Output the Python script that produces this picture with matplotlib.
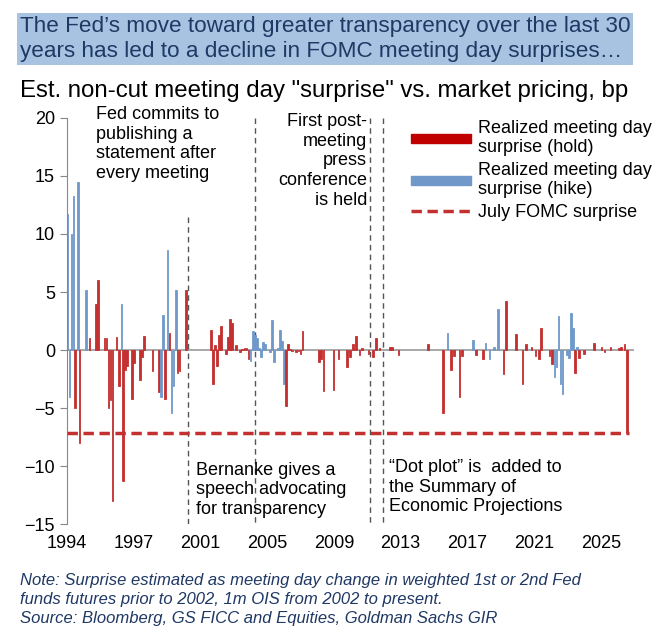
import numpy as np
import matplotlib.pyplot as plt
from matplotlib.patches import Patch
from matplotlib.lines import Line2D

plt.rcParams['font.family'] = ['Liberation Sans', 'DejaVu Sans']

# meeting position (years since start of 1994), surprise in bp, h = hike meeting
t_pos = [0.04, 0.16, 0.28, 0.4, 0.5, 0.66, 0.76, 1.16, 1.36, 1.74, 1.88, 2.26, 2.38, 2.5, 2.62, 2.74,
         2.98, 3.12, 3.28, 3.38, 3.5, 3.62, 3.9, 4.02, 4.38, 4.5, 4.62, 5.14, 5.52, 5.66, 5.78, 5.88,
         6.04, 6.16, 6.28, 6.4, 6.54, 6.64, 6.76, 7.14, 8.62, 8.74, 8.88, 9.0, 9.12, 9.24, 9.52, 9.64,
         9.76, 9.88, 10.12, 10.38, 10.5, 10.64, 10.76, 10.88, 11.0, 11.14, 11.26, 11.38, 11.5, 11.64,
         11.76, 11.88, 12.16, 12.28, 12.4, 12.64, 12.76, 12.88, 13.0, 13.12, 13.26, 13.38, 13.5, 13.74,
         13.88, 14.0, 14.12, 15.12, 15.24, 15.38,
         15.98, 16.28, 16.78, 16.98, 17.14, 17.34, 17.54, 17.68, 18.08, 18.34, 18.54, 18.74, 19.38,
         19.48, 19.88, 21.64, 22.54, 22.82, 23.02, 23.22, 23.54, 23.68, 24.32, 24.52, 24.92, 25.08,
         25.32, 25.58, 25.82, 26.16, 26.3, 26.92, 27.3, 27.52, 27.84, 28.08, 28.3, 28.42, 28.92, 29.06,
         29.22, 29.34, 29.46, 29.58, 29.7, 29.96, 30.1, 30.22, 30.34, 30.46, 30.58, 30.7, 30.98, 31.58,
         32.04, 32.22, 32.58, 33.1, 33.22, 33.42, 33.56]
surprise = [11.7, -4, 10, 13.3, -5, 14.5, -8, 5.2, 1, 4, 6, 1, 1, -5, -4.3, -13,
            1.1, -3.1, 4, -11.3, -1.7, -1.4, -4.2, -1.1, -2.6, -0.6, 1.2, -1.8, -3.6, -4, 3, -4.2,
            8.6, 1.5, -5.4, -3.1, 5.2, -2, -1.8, 5.2, 1.7, -2.9, 0.4, -1.4, 1.3, 2.1, -0.3, 1.1,
            2.7, 2.3, 0.4, -0.2, 0.1, 0.2, 0.2, -0.8, -0.9, 1.6, 1.3, 1, 0.2, -0.6,
            0.7, 0.5, -0.2, 2.6, -1, 0.2, 1.7, 0.8, -2.9, -4.8, 0.5, 0.1, -0.1, -0.2,
            -0.1, -0.3, 1.6, -1, -0.8, -3.5,
            -3.4, -0.8, -1.5, -0.6, 0.5, 1.2, -0.4, 0.2, -0.3, -0.6, 1, 0.2, 0.3,
            0.3, -0.4, 0.5, -5.4, 1.5, -1.7, -0.5, -4, -0.5, 0.9, -0.4, -0.8, 0.6,
            -0.8, 0.3, 3.5, -2.1, 4.2, 1.4, -2.9, 0.5, 0.3, -0.5, -0.8, 1.9, -0.5, -1.2,
            -2.3, -1.5, 2.9, -2.9, -3.8, -0.4, -0.7, 3.2, 1.9, -2, 0.3, -0.7, -0.3, 0.6,
            0.3, -0.2, 0.3, 0.2, 0.3, 0.5, -7.1]
hike = ['b', 'b', 'b', 'b', 'r', 'b', 'r', 'b', 'r', 'r', 'r', 'r', 'r', 'r', 'r', 'r',
        'r', 'r', 'b', 'r', 'r', 'r', 'r', 'r', 'r', 'r', 'r', 'r', 'r', 'b', 'b', 'r',
        'b', 'r', 'b', 'b', 'b', 'r', 'r', 'r', 'r', 'r', 'r', 'r', 'r', 'r', 'r', 'r',
        'r', 'r', 'r', 'r', 'r', 'r', 'r', 'r', 'b', 'b', 'b', 'b', 'b', 'b',
        'b', 'b', 'b', 'b', 'b', 'b', 'b', 'b', 'b', 'r', 'r', 'r', 'r', 'r',
        'r', 'r', 'r', 'r', 'r', 'r',
        'r', 'r', 'r', 'r', 'r', 'r', 'r', 'r', 'r', 'r', 'r', 'r', 'r',
        'r', 'r', 'r', 'r', 'b', 'r', 'r', 'r', 'r', 'b', 'r', 'r', 'b',
        'b', 'b', 'b', 'r', 'r', 'r', 'r', 'r', 'r', 'r', 'r', 'r', 'r', 'r',
        'b', 'b', 'b', 'b', 'b', 'b', 'b', 'b', 'b', 'r', 'b', 'r', 'r', 'r',
        'r', 'r', 'r', 'r', 'r', 'r', 'r']
july_surprise = -7.1
event_lines = [7.28, 11.28, 18.18, 18.92]
year_labels = ['1994', '1997', '2001', '2005', '2009', '2013', '2017', '2021', '2025']

RED = '#C4302F'
BLUE = '#7099CA'
NAVY = '#1F3864'

fig = plt.figure(figsize=(6.62, 6.37), dpi=100)
ax = fig.add_axes([0.101, 0.177, 0.857, 0.638])

cols = [BLUE if h == 'b' else RED for h in hike]
ax.bar(t_pos, surprise, width=0.1, color=cols, edgecolor=cols, linewidth=0.6, zorder=2)
ax.axhline(0, color='#999999', lw=1.2, zorder=1)
ax.plot([0, t_pos[-1] + 0.1], [july_surprise] * 2, color=RED, lw=2.5, ls=(0, (3, 1.6)), zorder=3)

ax.plot([event_lines[0]] * 2, [11.5, -15], color='#555555', lw=1, ls=(0, (4, 3)), zorder=1)
for x in event_lines[1:]:
    ax.plot([x, x], [20, -15], color='#555555', lw=1, ls=(0, (4, 3)), zorder=1)

ax.set_xlim(0, 34)
ax.set_ylim(-15, 20)
ax.set_yticks(range(-15, 21, 5))
ax.set_xticks(np.arange(0, 33, 4))
ax.set_xticklabels(year_labels)
ax.tick_params(axis='x', length=0, labelsize=13, pad=8)
ax.tick_params(axis='y', labelsize=13, direction='out', length=5, color='#888888')
for s in ['top', 'right', 'bottom']:
    ax.spines[s].set_visible(False)
ax.spines['left'].set_color('#888888')

fs = 13
ls_ = 1.2
ax.text(1.75, 21.0, 'Fed commits to\npublishing a\nstatement after\nevery meeting', fontsize=fs, va='top', linespacing=ls_)
ax.text(18.0, 20.4, 'First post-\nmeeting\npress\nconference\nis held', fontsize=fs, va='top', ha='right', linespacing=ls_)
ax.text(7.75, -9.6, 'Bernanke gives a\nspeech advocating\nfor transparency', fontsize=fs, va='top', linespacing=ls_)
ax.text(19.3, -9.4, '\u201cDot plot\u201d is  added to\nthe Summary of\nEconomic Projections', fontsize=fs, va='top', linespacing=ls_)

handles = [Patch(color='#C00000'), Patch(color=BLUE),
           Line2D([], [], color=RED, lw=2.5, ls=(0, (3, 1.6)))]
labels = ['Realized meeting day\nsurprise (hold)', 'Realized meeting day\nsurprise (hike)', 'July FOMC surprise']
ax.legend(handles, labels, loc='upper right', bbox_to_anchor=(1.06, 1.035), frameon=False,
          fontsize=fs, handlelength=3.3, handleheight=0.4, labelspacing=0.3, handletextpad=0.4)

fig.text(0.03, 0.975, 'The Fed\u2019s move toward greater transparency over the last 30\nyears has led to a decline in FOMC meeting day surprises\u2026',
         fontsize=16.2, color=NAVY, va='top', linespacing=1.25,
         bbox=dict(facecolor='#A7C3E1', edgecolor='none', pad=2))
fig.text(0.03, 0.875, 'Est. non-cut meeting day "surprise" vs. market pricing, bp', fontsize=17.3, va='top')
fig.text(0.03, 0.1, 'Note: Surprise estimated as meeting day change in weighted 1st or 2nd Fed\nfunds futures prior to 2002, 1m OIS from 2002 to present.\nSource: Bloomberg, GS FICC and Equities, Goldman Sachs GIR',
         fontsize=12, color=NAVY, style='italic', va='top', linespacing=1.3)

fig.savefig('out.png', dpi=100)
